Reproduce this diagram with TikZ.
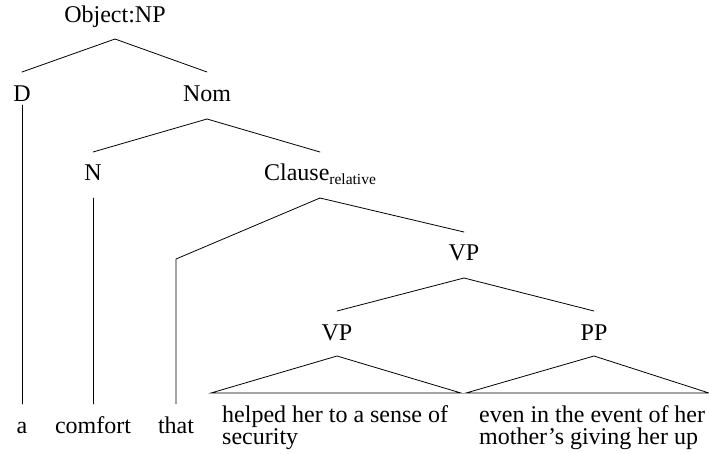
\documentclass[tikz,border=0pt]{standalone}
\usepackage{fontspec}
\setmainfont{Liberation Serif}
\usetikzlibrary{calc}
\begin{document}
\begin{tikzpicture}[x=1pt,y=-1pt,
  lab/.style={anchor=base, inner sep=0pt, font=\fontsize{24}{22}\selectfont},
  leaftext/.style={lab, anchor=base west, align=left},
  branch/.style={line width=0.8pt, line cap=round, line join=miter}]
\useasboundingbox (0,0) rectangle (709,453);

% category labels
\node[lab] (np)  at (115,22)  {Object:NP};
\node[lab] (d)   at (22,101)  {D};
\node[lab] (nom) at (207,101) {Nom};
\node[lab] (n)   at (93,180)  {N};
\node[lab] (cl)  at (320,180) {Clause\raisebox{-4.5pt}{\fontsize{15.5}{12}\selectfont relative}};
\node[lab] (vp)  at (464,260) {VP};
\node[lab] (vpa) at (337,340) {VP};
\node[lab] (pp)  at (594,340) {PP};

% words
\node[lab] (a)       at (22,433)  {a};
\node[lab] (comfort) at (93,433)  {comfort};
\node[lab] (that)    at (176,433) {that};
\node[leaftext] (vptext) at (222,444) {helped her to a sense of\\security};
\node[leaftext] (pptext) at (479,444) {even in the event of her\\mother's giving her up};

% corner points
\coordinate (bend) at (176,259);
\coordinate (vpl) at (211,393);
\coordinate (vpr) at (461,393);
\coordinate (ppl) at (466,393);
\coordinate (ppr) at (709,393);

% branches
\draw[branch] ($(np.base)+(0,17)$) -- ($(d.base)+(0,-29)$);
\draw[branch] ($(np.base)+(0,17)$) -- ($(nom.base)+(0,-29)$);
\draw[branch] ($(nom.base)+(0,18)$) -- ($(n.base)+(0,-28)$);
\draw[branch] ($(nom.base)+(0,18)$) -- ($(cl.base)+(0,-28)$);
\draw[branch] ($(cl.base)+(0,18)$) -- (bend) -- ($(that.base)+(0,-29)$);
\draw[branch] ($(cl.base)+(0,18)$) -- ($(vp.base)+(0,-28)$);
\draw[branch] ($(vp.base)+(0,18)$) -- ($(vpa.base)+(0,-29)$);
\draw[branch] ($(vp.base)+(0,18)$) -- ($(pp.base)+(0,-29)$);

% unary lines down to the words
\draw[branch] ($(d.base)+(0,4)$) -- ($(a.base)+(0,-29)$);
\draw[branch] ($(n.base)+(0,18)$) -- ($(comfort.base)+(0,-29)$);

% triangles over phrases
\draw[branch] ($(vpa.base)+(0,16)$) -- (vpl) -- (vpr) -- cycle;
\draw[branch] ($(pp.base)+(0,16)$) -- (ppl) -- (ppr) -- cycle;
\end{tikzpicture}
\end{document}
